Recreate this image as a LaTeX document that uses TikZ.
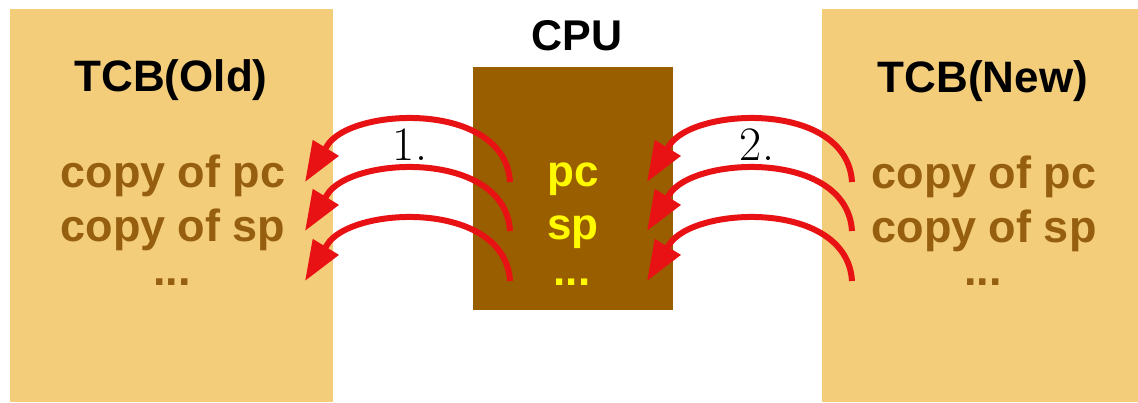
\documentclass[tikz,border=0pt]{standalone}
\usepackage{fontspec}
\setsansfont{Liberation Sans}
\usetikzlibrary{arrows.meta,bending}
\definecolor{tanbg}{RGB}{243,205,122}
\definecolor{cpubrown}{RGB}{153,94,0}
\definecolor{copybrown}{RGB}{150,95,15}
\definecolor{regyellow}{RGB}{255,250,0}
\definecolor{arrred}{RGB}{232,18,20}
\tikzset{
  panel/.style={fill=tanbg, draw=none, anchor=north west, inner sep=0},
  cpubox/.style={fill=cpubrown, draw=none, anchor=north west, inner sep=0},
  titletext/.style={font=\sffamily\bfseries\fontsize{44}{50}\selectfont, text=black, inner sep=0, anchor=base},
  cputitle/.style={font=\sffamily\bfseries\fontsize{43}{50}\selectfont, text=black, inner sep=0, anchor=base},
  copytext/.style={font=\sffamily\bfseries\fontsize{45}{52}\selectfont, text=copybrown, inner sep=0, anchor=base},
  regtext/.style={font=\sffamily\bfseries\fontsize{44}{50}\selectfont, text=regyellow, inner sep=0, anchor=base},
  steplabel/.style={font=\fontsize{48}{54}\selectfont, text=black, inner sep=0, anchor=base},
  savearrow/.style={draw=arrred, line width=6pt, -{Triangle[length=40pt,width=29pt,flex]}},
}
\begin{document}
\begin{tikzpicture}[x=1pt,y=-1pt]
\useasboundingbox (0,0) rectangle (1138,402);
% panels
\node[panel, minimum width=323pt, minimum height=393pt] (old) at (10,9) {};
\node[panel, minimum width=316pt, minimum height=393pt] (new) at (822,9) {};
\node[cpubox, minimum width=200pt, minimum height=243pt] (cpu) at (473,67) {};
% titles
\node[titletext] (toldt) at (171,91) {TCB(Old)};
\node[titletext] (tnewt) at (983,92) {TCB(New)};
\node[cputitle] (cput) at (577,50) {CPU};
% old TCB contents
\node[copytext] (opc) at (173,187) {copy of pc};
\node[copytext] (osp) at (173,241) {copy of sp};
\node[copytext] (odt) at (172,285) {...};
% new TCB contents
\node[copytext] (npc) at (984,188) {copy of pc};
\node[copytext] (nsp) at (984,242) {copy of sp};
\node[copytext] (ndt) at (983,285) {...};
% CPU registers
\node[regtext] (rpc) at (573,186) {pc};
\node[regtext] (rsp) at (573,239) {sp};
\node[regtext] (rdt) at (572,285) {...};
% step labels
\node[steplabel] (s1) at (410,160) {1.};
\node[steplabel] (s2) at (757,160) {2.};
% arrow end points
\foreach \i/\y in {1/182,2/231,3/281}{
  \coordinate (ls\i) at (510,\y);
  \coordinate (lt\i) at (305,\y);
  \coordinate (rs\i) at (852,\y);
  \coordinate (rt\i) at (647,\y);
}
\foreach \i in {1,2,3}{
  \draw[savearrow] (ls\i) .. controls ([shift={(-5,-82)}]ls\i) and ([shift={(45,-75)}]lt\i) .. ([shift={(22,-36)}]lt\i) -- (lt\i);
  \draw[savearrow] (rs\i) .. controls ([shift={(-5,-82)}]rs\i) and ([shift={(45,-75)}]rt\i) .. ([shift={(22,-36)}]rt\i) -- (rt\i);
}
\end{tikzpicture}
\end{document}
